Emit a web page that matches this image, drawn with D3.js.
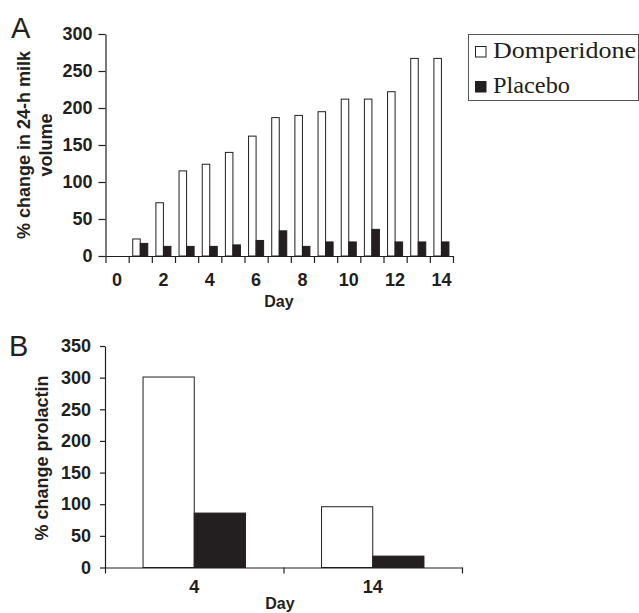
<!DOCTYPE html>
<html>
<head>
<meta charset="utf-8">
<script src="https://cdn.jsdelivr.net/npm/d3@7/dist/d3.min.js"></script>
<style>
  html, body { margin: 0; padding: 0; background: #fff; }
  svg { display: block; }
  .ax text { font-family: "Liberation Sans", Arial, sans-serif; font-weight: bold; font-size: 18px; fill: #231f20; }
  .ax path, .ax line { stroke: #231f20; stroke-width: 1.2px; }
</style>
</head>
<body>
<svg id="chart" width="639" height="613"></svg>
<script>
// ---- Data ----
const series = ["Domperidone", "Placebo"];
const daysA = [0, 1, 2, 3, 4, 5, 6, 7, 8, 9, 10, 11, 12, 13, 14];
const domperidoneA = [0, 23, 72, 115, 124, 140, 162, 187, 190, 195, 212, 212, 222, 267, 267];
const placeboA = [0, 17, 13, 13, 13, 15, 21, 34, 13, 19, 19, 36, 19, 19, 19];
const yTicksA = [0, 50, 100, 150, 200, 250, 300];
const xLabelsA = [0, 2, 4, 6, 8, 10, 12, 14];

const daysB = ["4", "14"];
const domperidoneB = [301, 96];
const placeboB = [86, 18];
const yTicksB = [0, 50, 100, 150, 200, 250, 300, 350];

const colors = { Domperidone: "#ffffff", Placebo: "#231f20" };

const svg = d3.select("#chart");
const sans = '"Liberation Sans", Arial, sans-serif';
const serif = '"Liberation Serif", "Times New Roman", serif';

// ---------------- Panel A ----------------
(function () {
  const left = 105.5, right = 453, top = 34, bottom = 256;
  const x0 = d3.scaleBand().domain(daysA).range([left, right]).padding(0);
  const x1 = d3.scaleBand().domain(series).range([0, x0.bandwidth()]).paddingInner(0).paddingOuter(0.54);
  const y = d3.scaleLinear().domain([0, 300]).range([bottom, top]);
  const xb = d3.scaleLinear().domain([0, daysA.length]).range([left, right]);

  const rows = daysA.map((d, i) => ({ day: d, Domperidone: domperidoneA[i], Placebo: placeboA[i] }));
  const g = svg.append("g");
  const grp = g.selectAll("g.grp").data(rows).join("g")
    .attr("transform", d => `translate(${x0(d.day)},0)`);
  grp.selectAll("rect").data(d => series.map(s => ({ s, v: d[s] })).filter(o => o.v > 0)).join("rect")
    .attr("x", o => x1(o.s))
    .attr("width", x1.bandwidth())
    .attr("y", o => y(o.v))
    .attr("height", o => y(0) - y(o.v))
    .attr("fill", o => colors[o.s])
    .attr("stroke", "#231f20")
    .attr("stroke-width", 1);

  // y axis
  g.append("g").attr("class", "ax").attr("transform", `translate(${left},0)`)
    .call(d3.axisLeft(y).tickValues(yTicksA).tickSize(7).tickSizeOuter(0).tickPadding(6));
  // x boundary ticks
  g.append("g").attr("class", "ax").attr("transform", `translate(0,${bottom})`)
    .call(d3.axisBottom(xb).tickValues(d3.range(daysA.length + 1)).tickSize(7).tickSizeOuter(0).tickFormat(""));
  // x labels
  const xl = g.append("g").attr("class", "ax").attr("transform", `translate(0,${bottom})`)
    .call(d3.axisBottom(x0).tickValues(xLabelsA).tickSize(0).tickPadding(17));
  xl.select(".domain").remove();

  g.append("text").attr("x", 279).attr("y", 307).attr("text-anchor", "middle")
    .attr("font-family", sans).attr("font-weight", "bold").attr("font-size", 16).attr("fill", "#231f20")
    .text("Day");

  const yt = g.append("text").attr("transform", `translate(30,145) rotate(-90)`)
    .attr("text-anchor", "middle").attr("font-family", sans).attr("font-weight", "bold")
    .attr("font-size", 18).attr("fill", "#231f20");
  yt.append("tspan").attr("x", 0).attr("y", 0).text("% change in 24-h milk");
  yt.append("tspan").attr("x", 0).attr("y", 22).text("volume");

  g.append("text").attr("x", 11).attr("y", 38).attr("font-family", sans).attr("font-size", 29)
    .attr("fill", "#231f20").text("A");
})();

// ---------------- Legend ----------------
(function () {
  const g = svg.append("g");
  g.append("rect").attr("x", 468.5).attr("y", 34.5).attr("width", 170).attr("height", 66)
    .attr("fill", "none").attr("stroke", "#555").attr("stroke-width", 1);
  const ys = [46.5, 81.5];
  const widths = [143, 77];
  series.forEach((s, i) => {
    g.append("rect").attr("x", 475.5).attr("y", ys[i]).attr("width", 10.5).attr("height", 10.5)
      .attr("fill", colors[s]).attr("stroke", "#231f20").attr("stroke-width", 1);
    g.append("text").attr("x", 493).attr("y", ys[i] + 11).attr("font-family", serif)
      .attr("font-size", 24).attr("fill", "#231f20")
      .attr("textLength", widths[i]).attr("lengthAdjust", "spacingAndGlyphs").text(s);
  });
})();

// ---------------- Panel B ----------------
(function () {
  const left = 105, right = 462, top = 346, bottom = 567.5;
  const x0 = d3.scaleBand().domain(daysB).range([left, right]).padding(0);
  const x1 = d3.scaleBand().domain(series).range([0, x0.bandwidth()]).paddingInner(0).paddingOuter(0.743);
  const y = d3.scaleLinear().domain([0, 350]).range([bottom, top]);
  const xb = d3.scaleLinear().domain([0, daysB.length]).range([left, right]);

  const rows = daysB.map((d, i) => ({ day: d, Domperidone: domperidoneB[i], Placebo: placeboB[i] }));
  const g = svg.append("g");
  const grp = g.selectAll("g.grp").data(rows).join("g")
    .attr("transform", d => `translate(${x0(d.day)},0)`);
  grp.selectAll("rect").data(d => series.map(s => ({ s, v: d[s] }))).join("rect")
    .attr("x", o => x1(o.s))
    .attr("width", x1.bandwidth())
    .attr("y", o => y(o.v))
    .attr("height", o => y(0) - y(o.v))
    .attr("fill", o => colors[o.s])
    .attr("stroke", "#231f20")
    .attr("stroke-width", 1);

  g.append("g").attr("class", "ax").attr("transform", `translate(${left},0)`)
    .call(d3.axisLeft(y).tickValues(yTicksB).tickSize(5).tickSizeOuter(0).tickPadding(9));
  g.append("g").attr("class", "ax").attr("transform", `translate(0,${bottom})`)
    .call(d3.axisBottom(xb).tickValues(d3.range(daysB.length + 1)).tickSize(6).tickSizeOuter(0).tickFormat(""));
  const xl = g.append("g").attr("class", "ax").attr("transform", `translate(0,${bottom})`)
    .call(d3.axisBottom(x0).tickSize(0).tickPadding(13));
  xl.select(".domain").remove();

  g.append("text").attr("x", 280).attr("y", 609).attr("text-anchor", "middle")
    .attr("font-family", sans).attr("font-weight", "bold").attr("font-size", 16).attr("fill", "#231f20")
    .text("Day");

  g.append("text").attr("transform", `translate(48,458) rotate(-90)`)
    .attr("text-anchor", "middle").attr("font-family", sans).attr("font-weight", "bold")
    .attr("font-size", 18).attr("fill", "#231f20").text("% change prolactin");

  g.append("text").attr("x", 9).attr("y", 356).attr("font-family", sans).attr("font-size", 29)
    .attr("fill", "#231f20").text("B");
})();
</script>
</body>
</html>
